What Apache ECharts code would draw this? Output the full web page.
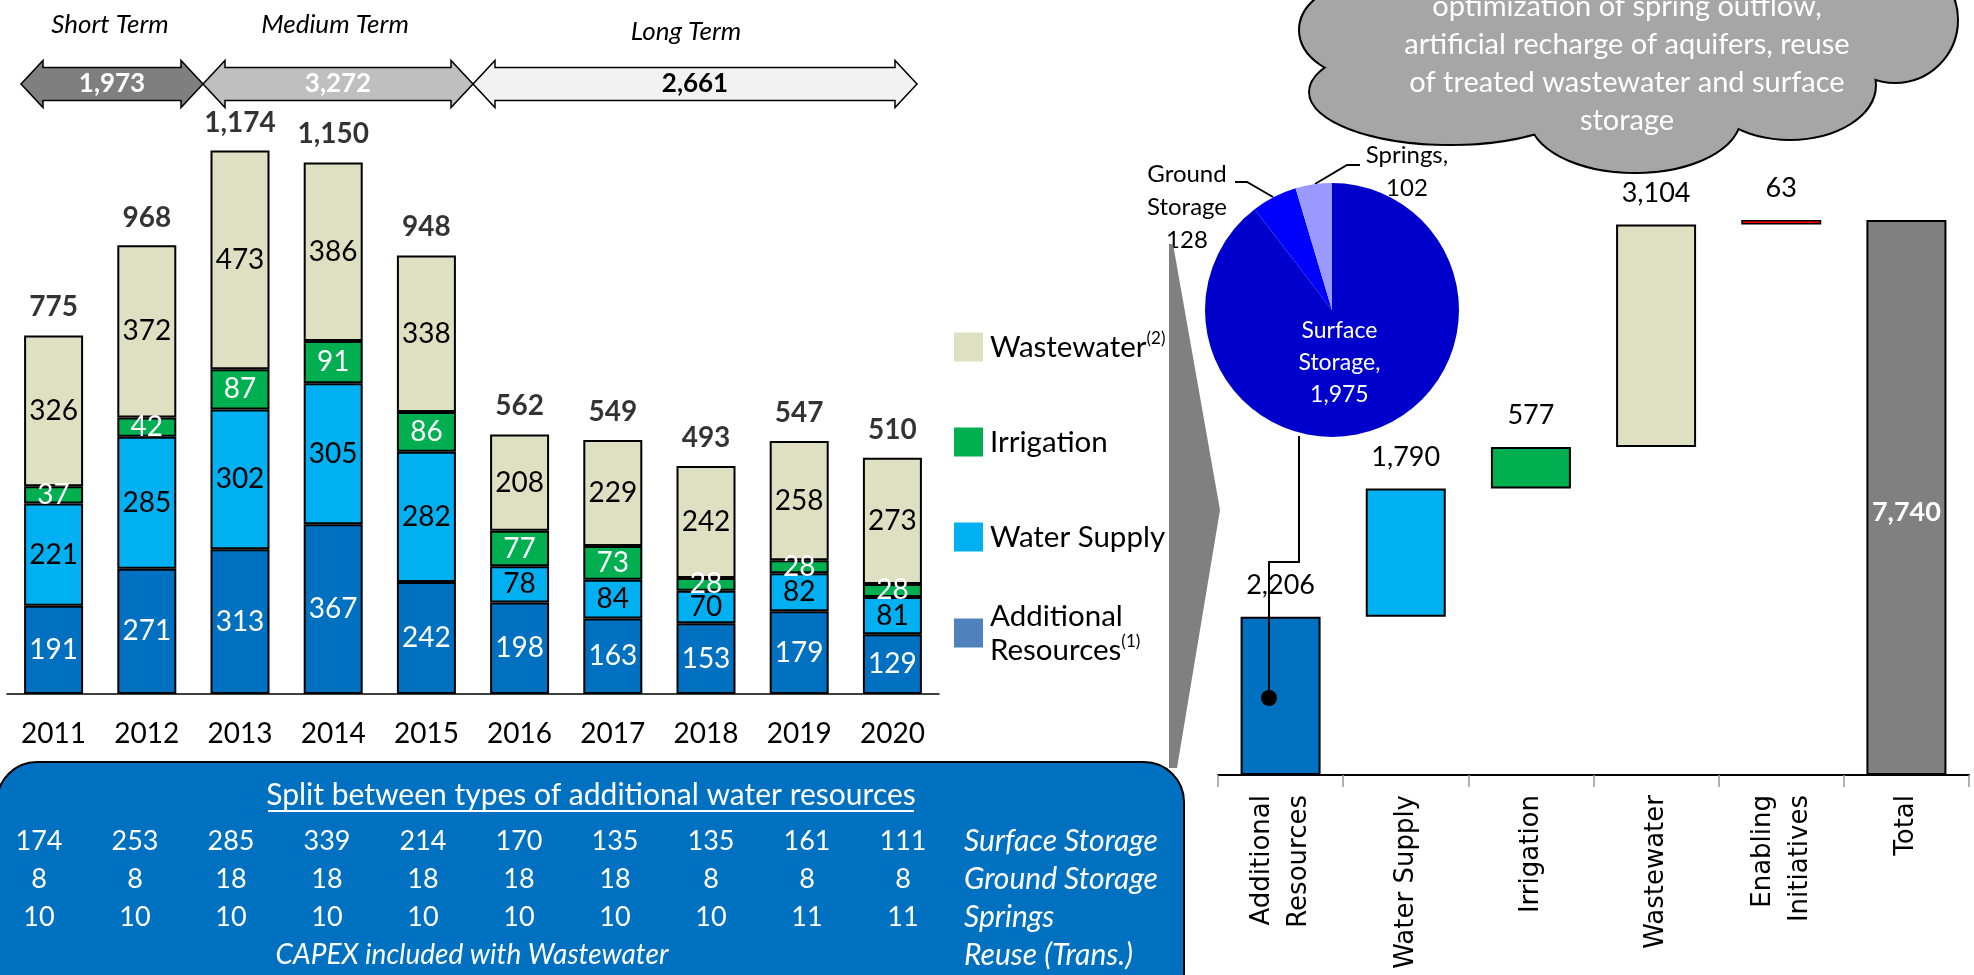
<!DOCTYPE html>
<html><head><meta charset="utf-8">
<script src="https://cdn.jsdelivr.net/npm/echarts@6/dist/echarts.min.js"></script>
<style>html,body{margin:0;padding:0;background:#fff;overflow:hidden}#c{width:1974px;height:975px}</style>
</head><body><div id="c"></div>
<script>
// ---------------- DATA ----------------
const years = ['2011','2012','2013','2014','2015','2016','2017','2018','2019','2020'];
const additional = [191,271,313,367,242,198,163,153,179,129];
const waterSupply = [221,285,302,305,282,78,84,70,82,81];
const irrigation = [37,42,87,91,86,77,73,28,28,28];
const wastewater = [326,372,473,386,338,208,229,242,258,273];
const yearTotals = [775,968,1174,1150,948,562,549,493,547,510];

const termNames = ['Short Term','Medium Term','Long Term'];
const termTotals = [1973,3272,2661];

const wfCategories = ['Additional\nResources','Water Supply','Irrigation','Wastewater','Enabling\nInitiatives','Total'];
const wfValues = [2206,1790,577,3104,63,7740];

const pieNames = ['Surface Storage','Ground Storage','Springs'];
const pieValues = [1975,128,102];

const splitTitle = 'Split between types of additional water resources';
const splitSurface = [174,253,285,339,214,170,135,135,161,111];
const splitGround = [8,8,18,18,18,18,18,8,8,8];
const splitSprings = [10,10,10,10,10,10,10,10,11,11];
const splitRowLabels = ['Surface Storage','Ground Storage','Springs','Reuse (Trans.)'];
const splitReuseNote = 'CAPEX included with Wastewater';

const cloudLines = ['optimization of spring outflow,','artificial recharge of aquifers, reuse','of treated wastewater and surface','storage'];

// ---------------- STYLE / LAYOUT ----------------
const F = 'Lato';
const C = {add:'#0070C0', addLegend:'#4F81BD', ws:'#00B0F0', irr:'#00B050', ww:'#DFDFC2', red:'#FF0000', total:'#808080'};
const wfColors = [C.add, C.ws, C.irr, C.ww, C.red, C.total];
const termLayout = {spans:[[21,203],[203,473],[473,917]], cy:84, fills:['#7F7F7F','#BFBFBF','#F2F2F2'], textFill:['#fff','#fff','#000'], titleX:[110,335,686], titleY:[25,25,32]};
const fmt = v => Number(v).toLocaleString('en-US');

const chart = echarts.init(document.getElementById('c'), null, {renderer:'canvas'});

function stackBar(name, data, color, labelColor){
  return {type:'bar', name, data, stack:'yr', xAxisIndex:0, yAxisIndex:0, barWidth:59,
    itemStyle:{color, borderColor:'#000', borderWidth:2},
    label:{show:true, position:'inside', color:labelColor, fontSize:28, fontFamily:F}};
}

// waterfall offsets derived from values
const wfBase = [];
let acc = 0;
wfValues.forEach((v,i)=>{ if(i===wfValues.length-1){wfBase.push(0);} else {wfBase.push(acc); acc += v;} });

function arrowPts(x0,x1,cy){
  const hl=22, hh=23.5, bh=16.5;
  return [[x0,cy],[x0+hl,cy-hh],[x0+hl,cy-bh],[x1-hl,cy-bh],[x1-hl,cy-hh],[x1,cy],[x1-hl,cy+hh],[x1-hl,cy+bh],[x0+hl,cy+bh],[x0+hl,cy+hh]];
}

const graphics = [];
// term arrows
termNames.forEach((n,i)=>{
  const [x0,x1] = termLayout.spans[i];
  graphics.push({type:'polygon', z:10, shape:{points:arrowPts(x0,x1,termLayout.cy)}, style:{fill:termLayout.fills[i], stroke:'#000', lineWidth:1.5}});
  graphics.push({type:'text', z:11, style:{text:fmt(termTotals[i]), x:(x0+x1)/2, y:termLayout.cy, textAlign:'center', textVerticalAlign:'middle', fill:termLayout.textFill[i], font:'bold 26px '+F}});
  graphics.push({type:'text', z:11, style:{text:n, x:termLayout.titleX[i], y:termLayout.titleY[i], textAlign:'center', textVerticalAlign:'middle', fill:'#000', font:'italic 26px '+F}});
});

// cloud
const ells = [[1370,30,70,48],[1450,92,140,52],[1635,117,105,55],[1790,85,85,54],[1895,20,62,62],[1620,30,300,75],[1500,0,150,60],[1780,10,140,60]];
ells.forEach(e=>graphics.push({type:'ellipse', z:100, shape:{cx:e[0],cy:e[1],rx:e[2],ry:e[3]}, style:{fill:'#A6A6A6', stroke:'#000', lineWidth:4}}));
ells.forEach(e=>graphics.push({type:'ellipse', z:101, shape:{cx:e[0],cy:e[1],rx:e[2],ry:e[3]}, style:{fill:'#A6A6A6'}}));
graphics.push({type:'text', z:103, style:{text:cloudLines.join('\n'), x:1627, y:-12, textAlign:'center', textVerticalAlign:'top', fill:'#fff', font:'29px '+F, lineHeight:38}});

// grey wedge
graphics.push({type:'polygon', z:5, shape:{points:[[1169,244],[1173,244],[1220,510],[1177,768],[1169,768]]}, style:{fill:'#808080'}});

// connector line from pie to bar
graphics.push({type:'polyline', z:50, shape:{points:[[1299,436],[1299,562],[1269,562],[1269,698]]}, style:{stroke:'#000', lineWidth:2, fill:null}});
graphics.push({type:'circle', z:50, shape:{cx:1269, cy:698, r:8}, style:{fill:'#000'}});

// table box
graphics.push({type:'rect', z:6, shape:{x:-3, y:762, width:1187, height:250, r:40}, style:{fill:'#0070C0', stroke:'#000', lineWidth:2}});
graphics.push({type:'text', z:7, style:{text:splitTitle, x:591, y:795, textAlign:'center', textVerticalAlign:'middle', fill:'#fff', font:'30px '+F}});
graphics.push({type:'line', z:7, shape:{x1:268, y1:811, x2:914, y2:811}, style:{stroke:'#fff', lineWidth:2}});
const rowsY = [841, 879, 917, 955];
[splitSurface, splitGround, splitSprings].forEach((row,r)=>{
  row.forEach((v,i)=>graphics.push({type:'text', z:7, style:{text:String(v), x:39+96*i, y:rowsY[r], textAlign:'center', textVerticalAlign:'middle', fill:'#fff', font:'27px '+F}}));
});
splitRowLabels.forEach((t,r)=>graphics.push({type:'text', z:7, style:{text:t, x:964, y:rowsY[r], textAlign:'left', textVerticalAlign:'middle', fill:'#fff', font:'italic 30px '+F}}));
graphics.push({type:'text', z:7, style:{text:splitReuseNote, x:472, y:rowsY[3], textAlign:'center', textVerticalAlign:'middle', fill:'#fff', font:'italic 28px '+F}});

const legendText = {fontSize:29.5, color:'#000', fontFamily:F, lineHeight:34, padding:[0,0,0,2],
  rich:{sup:{fontSize:17, fontFamily:F, color:'#000', verticalAlign:'top', lineHeight:20}}};
const legendFmt = n => n==='Wastewater' ? 'Wastewater{sup|(2)}' : (n==='Additional Resources' ? 'Additional\nResources{sup|(1)}' : n);

const option = {
  animation:false,
  textStyle:{fontFamily:F},
  grid:[{left:7, width:932, top:46.5, bottom:281}, {left:1218, right:5, top:201.3, bottom:200}],
  xAxis:[
    {type:'category', gridIndex:0, data:years, axisLine:{lineStyle:{color:'#000', width:1.5}}, axisTick:{show:false},
      axisLabel:{fontSize:28, color:'#000', margin:26, fontFamily:F}},
    {type:'category', gridIndex:1, data:wfCategories, axisLine:{lineStyle:{color:'#000', width:2}},
      axisTick:{show:true, length:12, lineStyle:{color:'#999', width:1.5}},
      axisLabel:{rotate:90, interval:0, fontSize:26, lineHeight:37, color:'#000', fontFamily:'DejaVu Sans', margin:20}}
  ],
  yAxis:[
    {type:'value', gridIndex:0, min:0, max:1400, show:false},
    {type:'value', gridIndex:1, min:0, max:8000, show:false}
  ],
  legend:[{
    orient:'vertical', left:949, top:325, itemWidth:29, itemHeight:29, itemGap:61, icon:'rect', selectedMode:false,
    textStyle:legendText, formatter:legendFmt,
    data:[
      {name:'Wastewater', itemStyle:{color:C.ww, borderWidth:0}},
      {name:'Irrigation', itemStyle:{color:C.irr, borderWidth:0}},
      {name:'Water Supply', itemStyle:{color:C.ws, borderWidth:0}}
    ]
  },{
    orient:'vertical', left:949, top:594, itemWidth:29, itemHeight:29, icon:'rect', selectedMode:false,
    textStyle:legendText, formatter:legendFmt,
    data:[{name:'Additional Resources', itemStyle:{color:C.addLegend, borderWidth:0}}]
  }],
  series:[
    stackBar('Additional Resources', additional, C.add, '#fff'),
    stackBar('Water Supply', waterSupply, C.ws, '#000'),
    stackBar('Irrigation', irrigation, C.irr, '#fff'),
    stackBar('Wastewater', wastewater, C.ww, '#000'),
    {type:'scatter', name:'Year total', xAxisIndex:0, yAxisIndex:0, data:yearTotals, symbolSize:1, itemStyle:{color:'rgba(0,0,0,0)'}, silent:true,
      label:{show:true, position:'top', distance:14, fontSize:28, fontWeight:'bold', color:'#000', fontFamily:F, formatter:p=>fmt(p.value)}},
    {type:'bar', name:'wfBase', xAxisIndex:1, yAxisIndex:1, stack:'wf', data:wfBase, barWidth:80, silent:true,
      itemStyle:{color:'rgba(0,0,0,0)', borderWidth:0}},
    {type:'bar', name:'wfValue', xAxisIndex:1, yAxisIndex:1, stack:'wf', barWidth:80,
      data: wfValues.map((v,i)=>({value:v, itemStyle: i===4 ? {color:wfColors[i], borderWidth:1.5} : {color:wfColors[i]},
        label: i===wfValues.length-1 ? {position:'inside', color:'#fff', fontWeight:'bold', fontSize:27, offset:[0,15]} : {}})),
      itemStyle:{borderColor:'#000', borderWidth:2},
      label:{show:true, position:'top', distance:18, fontSize:27, color:'#000', fontFamily:F, formatter:p=>fmt(p.value)}},
    {type:'pie', name:'Additional split', center:[1332,310], radius:127, startAngle:90, clockwise:true, z:3,
      data: pieValues.map((v,i)=>({name:pieNames[i], value:v, itemStyle:{color:['#0000CC','#0000FF','#9999FF'][i]},
        label: i===0 ? {position:'inside', color:'#fff', fontSize:23, lineHeight:32} : {},
        labelLine: i===0 ? {show:false} : {show:true}})),
      itemStyle:{borderWidth:0},
      label:{show:true, position:'outside', color:'#000', fontSize:24, lineHeight:33, fontFamily:F,
        formatter:p=> p.dataIndex===0 ? 'Surface\nStorage,\n'+fmt(p.value) : (p.dataIndex===1 ? 'Ground\nStorage\n'+fmt(p.value) : 'Springs,\n'+fmt(p.value))},
      labelLine:{lineStyle:{color:'#000', width:2}},
      labelLayout: function(p){
        if(p.dataIndex===0) return {dx:-14, dy:-10};
        if(p.dataIndex===1) return {x:1187, y:207, align:'center', verticalAlign:'middle', labelLinePoints:[[1273,197],[1247,182],[1235,182]]};
        if(p.dataIndex===2) return {x:1407, y:172, align:'center', verticalAlign:'middle', labelLinePoints:[[1315,184],[1347,165],[1360,165]]};
      }
    }
  ],
  graphic: graphics
};
chart.setOption(option);
</script></body></html>
